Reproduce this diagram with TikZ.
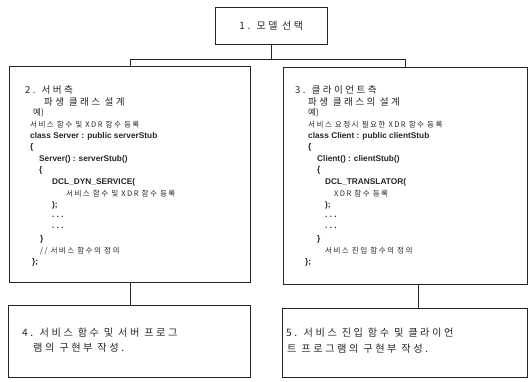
\documentclass[tikz,border=0pt]{standalone}
\usepackage{fontspec}
\setmainfont{Liberation Sans}
\newfontfamily\kr{Noto Sans CJK KR}
\newfontfamily\krw{Noto Sans CJK KR}[LetterSpace=25]
\newfontfamily\krs{Noto Sans CJK KR}[LetterSpace=18]
\begin{document}
\begin{tikzpicture}[x=1pt,y=-1pt,
  box/.style={draw=black!85, line width=0.6pt, anchor=north west, inner sep=0pt},
  conn/.style={draw=black!85, line width=0.6pt},
  ln/.style={anchor=west, inner sep=0pt, text=black!85},
  code/.style={ln, font=\fontsize{8.3}{10}\selectfont\bfseries},
  ksmall/.style={ln, font=\fontsize{7.6}{9}\krs},
  ktitle/.style={ln, font=\fontsize{9.6}{11}\krw},
  kbig/.style={ln, font=\fontsize{10.2}{12}\krw}
]
\useasboundingbox (0,0) rectangle (529,381);
% boxes
\node[box, minimum width=112pt, minimum height=37pt] (b1) at (215,7) {};
\node[box, minimum width=241pt, minimum height=216pt] (b2) at (9,66) {};
\node[box, minimum width=244pt, minimum height=217pt] (b3) at (283,67) {};
\node[box, minimum width=242pt, minimum height=72pt] (b4) at (8,305) {};
\node[box, minimum width=245pt, minimum height=69pt] (b5) at (282,308) {};
\coordinate (k5) at (418,0);
\coordinate (hb) at (0,59);
% connectors
\draw[conn] (b1.south) -- (b1.south |- hb);
\draw[conn] (b2.north |- hb) -- (b3.north |- hb);
\draw[conn] (b2.north |- hb) -- (b2.north);
\draw[conn] (b3.north |- hb) -- (b3.north);
\draw[conn] (b2.south) -- (b2.south |- b4.north);
\draw[conn] (b3.south -| k5) -- (b5.north -| k5);
% box 1
\node[anchor=center, inner sep=0pt, text=black!85, font=\fontsize{10}{12}\krw] (t1) at (b1.center) {1. 모델 선택};
% box 2 lines
\node[ktitle] (s1) at (25,90) {2. 서버측};
\node[ktitle] (s2) at (44,101.5) {파생 클래스 설계};
\node[ln, font=\fontsize{8.5}{10}\kr] (s3) at (33,113) {예)};
\node[ksmall] (s4) at (30,124.5) {서비스 함수 및 XDR 함수 등록};
\node[code] (s5) at (30,136) {class Server : public serverStub};
\node[code] (s6) at (30,147.5) {\{};
\node[code] (s7) at (39,159) {Server() : serverStub()};
\node[code] (s8) at (39,170.5) {\{};
\node[code] (s9) at (52,182) {DCL\_DYN\_SERVICE(};
\node[ksmall] (s10) at (66,193.5) {서비스 함수 및 XDR 함수 등록};
\node[code] (s11) at (52,205) {);};
\node[code] (s12) at (52,216.5) {.\ .\ .};
\node[code] (s13) at (52,228) {.\ .\ .};
\node[code] (s14) at (40,239.5) {\}};
\node[ksmall] (s15) at (40,251) {// 서비스 함수의 정의};
\node[code] (s16) at (32,262.5) {\};};
% box 3 lines
\node[ktitle] (c1) at (295,90) {3. 클라이언트측};
\node[ktitle] (c2) at (308,101.5) {파생 클래스의 설계};
\node[ln, font=\fontsize{8.5}{10}\kr] (c3) at (308,113) {예)};
\node[ksmall] (c4) at (308,124.5) {서비스 요청시 필요한 XDR 함수 등록};
\node[code] (c5) at (308,136) {class Client : public clientStub};
\node[code] (c6) at (308,147.5) {\{};
\node[code] (c7) at (317,159) {Client() : clientStub()};
\node[code] (c8) at (317,170.5) {\{};
\node[code] (c9) at (325,182) {DCL\_TRANSLATOR(};
\node[ksmall] (c10) at (334,193.5) {XDR 함수 등록};
\node[code] (c11) at (325,205) {);};
\node[code] (c12) at (325,216.5) {.\ .\ .};
\node[code] (c13) at (325,228) {.\ .\ .};
\node[code] (c14) at (317,239.5) {\}};
\node[ksmall] (c15) at (325,251) {서비스 진입 함수의 정의};
\node[code] (c16) at (305,262.5) {\};};
% box 4, 5
\node[kbig] (f1) at (22,333) {4. 서비스 함수 및 서버 프로그};
\node[kbig] (f2) at (33,348) {램의 구현부 작성.};
\node[kbig] (g1) at (286,333) {5. 서비스 진입 함수 및 클라이언};
\node[kbig] (g2) at (287,349) {트 프로그램의 구현부 작성.};
\end{tikzpicture}
\end{document}
